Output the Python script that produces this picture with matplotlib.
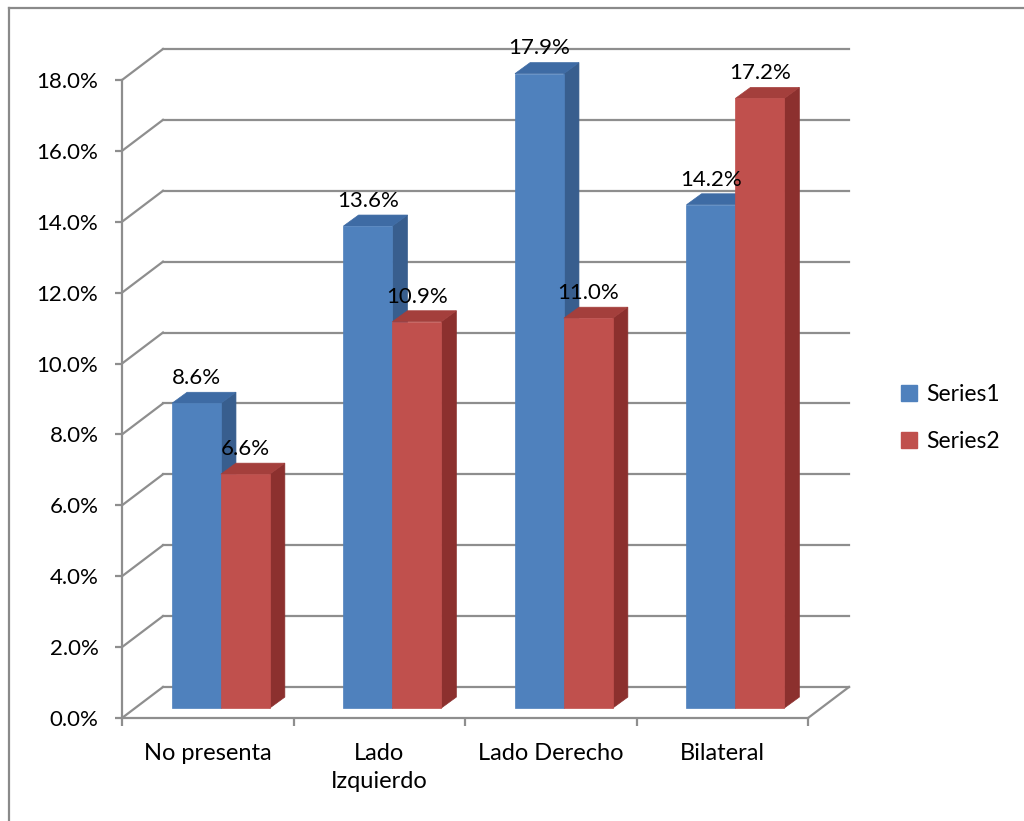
import matplotlib
matplotlib.use("Agg")
import matplotlib.pyplot as plt
from matplotlib.patches import Polygon, Patch
from matplotlib.lines import Line2D

plt.rcParams['font.family'] = ['Lato', 'DejaVu Sans']

categories = ["No presenta", "Lado\nIzquierdo", "Lado Derecho", "Bilateral"]
series1 = [8.6, 13.6, 17.9, 14.2]
series2 = [6.6, 10.9, 11.0, 17.2]
series_names = ["Series1", "Series2"]
y_ticks = [0, 2, 4, 6, 8, 10, 12, 14, 16, 18]

# face colours: front, side, top
BLUE = ("#4F81BD", "#385E8E", "#3E6BA4")
RED = ("#C0504D", "#8C302E", "#A43F3C")
GRID = "#8E8E8E"

# pseudo-3d depth of the walls and of the bars (data units)
DX, DY = 0.239, 0.875
OX, OY = 0.0765, 0.28     # bar front plane offset
BDX, BDY = 0.088, 0.31    # bar depth
BW = 0.285                # bar width

fig = plt.figure(figsize=(10.24, 8.21), dpi=100)
ax = fig.add_axes([122 / 1024, 103 / 821, 686 / 1024, 638 / 821])
ax.set_xlim(0, 4)
ax.set_ylim(0, 18)
ax.set_facecolor("none")

# back wall gridlines and side wall diagonals
for t in y_ticks:
    ax.add_line(Line2D([DX, 4 + DX], [t + DY, t + DY], color=GRID, lw=1.6, clip_on=False, zorder=1))
    ax.add_line(Line2D([0, DX], [t, t + DY], color=GRID, lw=1.6, clip_on=False, zorder=1))
# floor edge on the right
ax.add_line(Line2D([4, 4 + DX], [0, DY], color=GRID, lw=1.6, clip_on=False, zorder=1))


def draw_bar(x0, v, cols):
    x1 = x0 + BW
    front = [(x0 + OX, OY), (x1 + OX, OY), (x1 + OX, v + OY), (x0 + OX, v + OY)]
    side = [(x1 + OX, OY), (x1 + OX + BDX, OY + BDY),
            (x1 + OX + BDX, v + OY + BDY), (x1 + OX, v + OY)]
    top = [(x0 + OX, v + OY), (x1 + OX, v + OY),
           (x1 + OX + BDX, v + OY + BDY), (x0 + OX + BDX, v + OY + BDY)]
    for pts, c in ((side, cols[1]), (top, cols[2]), (front, cols[0])):
        ax.add_patch(Polygon(pts, closed=True, facecolor=c, edgecolor=c,
                             lw=0.5, clip_on=False, zorder=3))
    ax.annotate(f"{v:.1f}%", xy=((x0 + x1) / 2 + OX, v + OY + BDY),
                xytext=(0, 3), textcoords="offset points",
                ha="center", va="bottom", fontsize=16, color="black",
                annotation_clip=False, zorder=5)


for i in range(len(categories)):
    c = i + 0.5
    draw_bar(c - BW, series1[i], BLUE)
    draw_bar(c, series2[i], RED)

# axes styling
for s in ("top", "right"):
    ax.spines[s].set_visible(False)
for s in ("left", "bottom"):
    ax.spines[s].set_color(GRID)
    ax.spines[s].set_linewidth(1.6)
    ax.spines[s].set_zorder(2)

ax.set_yticks(y_ticks)
ax.set_yticklabels([f"{t:.1f}%" for t in y_ticks])
ax.tick_params(axis="y", length=5, width=1.6, color=GRID, pad=12, labelsize=16)

ax.set_xticks([0, 1, 2, 3, 4])
ax.set_xticklabels([])
ax.tick_params(axis="x", which="major", length=6, width=1.6, color=GRID)
ax.set_xticks([0.5, 1.5, 2.5, 3.5], minor=True)
ax.set_xticklabels(categories, minor=True, linespacing=1.4)
ax.tick_params(axis="x", which="minor", length=0, pad=18, labelsize=17)

handles = [Patch(facecolor=BLUE[0], edgecolor=BLUE[0]), Patch(facecolor=RED[0], edgecolor=RED[0])]
fig.legend(handles, series_names, loc="center left",
           bbox_to_anchor=(880 / 1024, 1 - 418 / 821), frameon=False,
           fontsize=16.5, handlelength=0.7, handleheight=0.7,
           handletextpad=0.4, labelspacing=1.1)

# chart area border (top and left edges)
fig.add_artist(Line2D([9 / 1024, 1], [1 - 8.5 / 821, 1 - 8.5 / 821], color="#8A8A8A", lw=1.6,
                      transform=fig.transFigure))
fig.add_artist(Line2D([9 / 1024, 9 / 1024], [0, 1 - 8.5 / 821], color="#8A8A8A", lw=1.6,
                      transform=fig.transFigure))

fig.savefig("out.png", dpi=100, facecolor="white")
